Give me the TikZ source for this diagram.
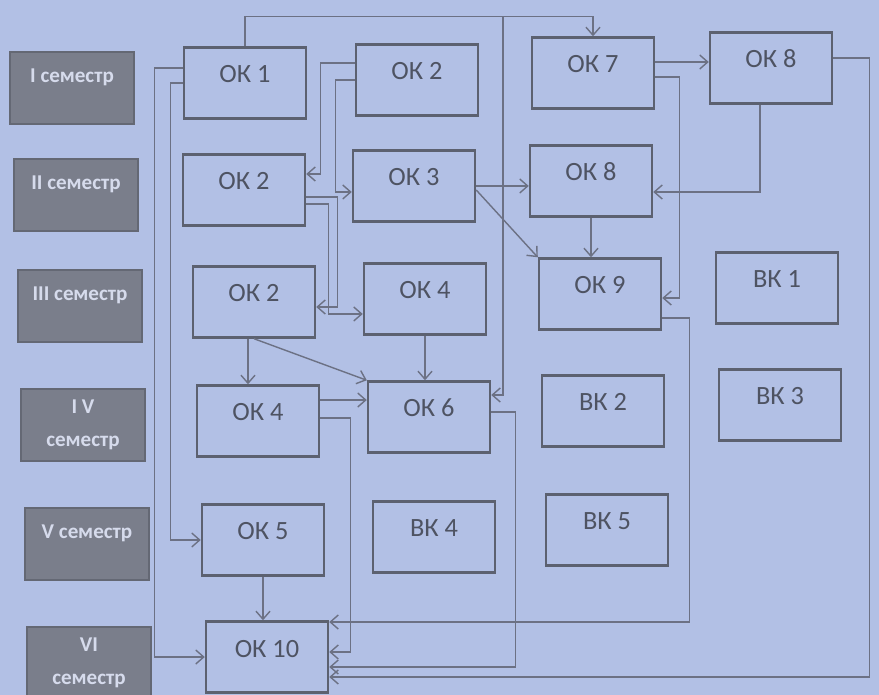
\documentclass[tikz,border=0pt]{standalone}
\usepackage{fontspec}
\setmainfont{Carlito}
\usetikzlibrary{arrows.meta}
\definecolor{bg}{RGB}{178,192,229}
\definecolor{boxline}{RGB}{92,97,112}
\definecolor{linecol}{RGB}{108,113,132}
\definecolor{semfill}{RGB}{122,126,139}
\definecolor{semline}{RGB}{100,104,116}
\definecolor{semtext}{RGB}{214,219,236}
\definecolor{oktext}{RGB}{78,83,98}

\begin{document}
\begin{tikzpicture}[x=0.02cm, y=-0.02cm,
  sem/.style={draw=semline, line width=1pt, fill=semfill, text=semtext,
    font=\fontsize{12}{14}\selectfont\bfseries, minimum width=2.48cm,
    minimum height=1.45cm, align=center},
  semone/.style={sem, text height=8pt, text depth=14pt},
  course/.style={draw=boxline, line width=1.4pt, fill=bg, text=oktext,
    font=\fontsize{15}{18}\selectfont, minimum width=2.44cm,
    minimum height=1.42cm, text height=12pt, text depth=12pt},
  link/.style={draw=linecol, line width=0.8pt,
    -{Straight Barb[length=1.6mm,width=2.8mm]}}]
  \useasboundingbox (0,0) rectangle (879,695);
  \fill[bg] (0,0) rectangle (879,695);

  \node[semone] (s1) at (72,88) {I семестр};
  \node[semone] (s2) at (76,195) {II семестр};
  \node[semone] (s3) at (80,306) {III семестр};
  \node[sem] (s4) at (83,425) {I V\\[5pt]семестр};
  \node[semone] (s5) at (87,544) {V семестр};
  \node[sem] (s6) at (89,663) {VI\\[5pt]семестр};

  \node[course] (ok1) at (245,83) {ОК 1};
  \node[course] (ok2a) at (417,80) {ОК 2};
  \node[course] (ok7) at (593,73) {ОК 7};
  \node[course] (ok8a) at (771,68) {ОК 8};
  \node[course] (ok2b) at (244,190) {ОК 2};
  \node[course] (ok3) at (414,186) {ОК 3};
  \node[course] (ok8b) at (591,181) {ОК 8};
  \node[course] (ok2c) at (254,302) {ОК 2};
  \node[course] (ok4a) at (425,299) {ОК 4};
  \node[course] (ok9) at (600,294) {ОК 9};
  \node[course] (vk1) at (777,288) {ВК 1};
  \node[course] (ok4b) at (258,421) {ОК 4};
  \node[course] (ok6) at (429,417) {ОК 6};
  \node[course] (vk2) at (603,411) {ВК 2};
  \node[course] (vk3) at (780,405) {ВК 3};
  \node[course] (ok5) at (263,540) {ОК 5};
  \node[course] (vk4) at (434,537) {ВК 4};
  \node[course] (vk5) at (607,530) {ВК 5};
  \node[course] (ok10) at (267,657) {ОК 10};

  \draw[link] (ok1.north) -- ++(0,-30) coordinate (top) -- ++(258,0) coordinate (split) -| (ok7.north);
  \draw[link] (split) |- ([yshift=0.44cm]ok6.east);
  \draw[link] ([yshift=0.3cm]ok1.west) -- ++(-28,0) |- (ok10.west);
  \draw[link] (ok1.west) -- ++(-12,0) |- (ok5.west);
  \draw[link] ([yshift=0.34cm]ok2a.west) -- ++(-34,0) |- ([yshift=0.32cm]ok2b.east);
  \draw[link] (ok2a.west) -- ++(-19,0) |- ([yshift=-0.12cm]ok3.west);
  \draw[link] ([yshift=-0.14cm]ok2b.east) -- ++(31,0) |- ([yshift=-0.1cm]ok2c.east);
  \draw[link] ([yshift=-0.28cm]ok2b.east) -- ++(22,0) |- ([yshift=-0.3cm]ok4a.west);
  \draw[link] (ok3.east) -- (ok3.east -| ok8b.west);
  \draw[link] ([yshift=-0.08cm]ok3.east) -- (ok9.north west);
  \draw[link] ([yshift=0.22cm]ok7.east) coordinate (a7) -- (a7 -| ok8a.west);
  \draw[link] ([yshift=-0.08cm]ok7.east) -- ++(24,0) |- ([yshift=-0.08cm]ok9.east);
  \draw[link] ([xshift=-0.22cm]ok8a.south) |- ([yshift=-0.22cm]ok8b.east);
  \draw[link] ([yshift=0.2cm]ok8a.east) -- ++(36,0) |- ([yshift=-0.4cm]ok10.east);
  \draw[link] (ok8b.south) -- (ok8b.south |- ok9.north);
  \draw[link] ([yshift=-0.48cm]ok9.east) -- ++(27,0) |- ([yshift=0.7cm]ok10.east);
  \draw[link] ([yshift=0.1cm]ok6.east) -- ++(24,0) |- ([yshift=-0.2cm]ok10.east);
  \draw[link] ([yshift=0.06cm]ok4b.east) -- ++(30,0) |- ([yshift=0.1cm]ok10.east);
  \draw[link] ([yshift=0.42cm]ok4b.east) coordinate (a4) -- (a4 -| ok6.west);
  \draw[link] ([xshift=-0.12cm]ok2c.south) coordinate (a2) -- (a2 |- ok4b.north);
  \draw[link] (ok2c.south) -- (ok6.north west);
  \draw[link] (ok4a.south) -- (ok4a.south |- ok6.north);
  \draw[link] (ok5.south) -- (ok5.south |- ok10.north);
\end{tikzpicture}
\end{document}
